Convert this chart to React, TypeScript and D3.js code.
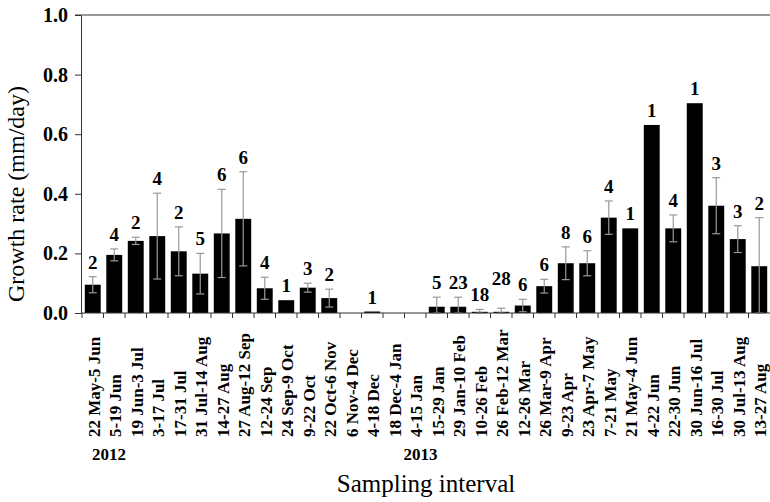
import { useEffect, useRef } from 'react';
import * as d3 from 'd3';

// sampling intervals (2012 -> 2013)
const intervals = [
  '22 May-5 Jun', '5-19 Jun', '19 Jun-3 Jul', '3-17 Jul', '17-31 Jul', '31 Jul-14 Aug',
  '14-27 Aug', '27 Aug-12 Sep', '12-24 Sep', '24 Sep-9 Oct', '9-22 Oct', '22 Oct-6 Nov',
  '6 Nov-4 Dec', '4-18 Dec', '18 Dec-4 Jan', '4-15 Jan', '15-29 Jan', '29 Jan-10 Feb',
  '10-26 Feb', '26 Feb-12 Mar', '12-26 Mar', '26 Mar-9 Apr', '9-23 Apr', '23 Apr-7 May',
  '7-21 May', '21 May-4 Jun', '4-22 Jun', '22-30 Jun', '30 Jun-16 Jul', '16-30 Jul',
  '30 Jul-13 Aug', '13-27 Aug',
];
const growth = [
  0.095, 0.195, 0.242, 0.258, 0.207, 0.132, 0.267, 0.316, 0.083, 0.043, 0.085, 0.05,
  0, 0.005, 0, 0, 0.021, 0.021, 0.004, 0.004, 0.025, 0.09, 0.167, 0.167,
  0.32, 0.284, 0.631, 0.284, 0.704, 0.36, 0.248, 0.157,
];
const sd = [
  0.027, 0.02, 0.012, 0.144, 0.082, 0.068, 0.148, 0.158, 0.037, 0, 0.015, 0.03,
  0, 0, 0, 0, 0.032, 0.032, 0.008, 0.012, 0.021, 0.023, 0.055, 0.042,
  0.056, 0, 0, 0.045, 0, 0.094, 0.045, 0.163,
];
const sampleSize = [
  2, 4, 2, 4, 2, 5, 6, 6, 4, 1, 3, 2, null, 1, null, null, 5, 23, 18, 28, 6, 6, 8, 6,
  4, 1, 1, 4, 1, 3, 3, 2,
];
const yTicks = [0, 0.2, 0.4, 0.6, 0.8, 1.0];
const years = [
  { label: '2012', at: '22 May-5 Jun', shift: 10 },
  { label: '2013', at: '4-15 Jan', shift: -1 },
];

const serif = "'Liberation Serif', Tinos, 'Times New Roman', Times, 'Nimbus Roman', 'DejaVu Serif', serif";

export default function App() {
  const svgRef = useRef<SVGSVGElement>(null);
  const W = 770;
  const H = 502;

  useEffect(() => {
    const svg = d3.select(svgRef.current);
    svg.selectAll('*').remove();
    svg.style('font-family', serif);

    const x = d3.scaleBand().domain(intervals).range([82, 770]).padding(0);
    const y = d3.scaleLinear().domain([0, 1]).range([313, 15]);
    const bw = x.bandwidth() * 0.74;
    const cx = (d: string) => (x(d) as number) + x.bandwidth() / 2;

    const data = intervals.map((d, i) => ({ d, v: growth[i], sd: sd[i], n: sampleSize[i] }));

    // top frame line
    svg.append('line')
      .attr('x1', 75).attr('x2', W).attr('y1', y(1)).attr('y2', y(1))
      .attr('stroke', '#777').attr('stroke-width', 1.5);

    // bars
    svg.append('g').selectAll('rect').data(data).join('rect')
      .attr('x', (p) => cx(p.d) - bw / 2)
      .attr('y', (p) => y(p.v))
      .attr('width', bw)
      .attr('height', (p) => y(0) - y(p.v))
      .attr('fill', '#000');

    // error bars
    const eb = svg.append('g').attr('stroke', '#999').attr('stroke-width', 1.2);
    data.filter((p) => p.sd > 0).forEach((p) => {
      const c = cx(p.d);
      const lo = y(Math.max(0, p.v - p.sd));
      const hi = y(p.v + p.sd);
      eb.append('line').attr('x1', c).attr('x2', c).attr('y1', lo).attr('y2', hi);
      eb.append('line').attr('x1', c - 4).attr('x2', c + 4).attr('y1', hi).attr('y2', hi);
      eb.append('line').attr('x1', c - 4).attr('x2', c + 4).attr('y1', lo).attr('y2', lo);
    });

    // sample size labels, lifted when two wide labels would sit side by side
    let prev: { y: number; wide: boolean; lifted: boolean } | null = null;
    data.forEach((p) => {
      if (p.n == null) { prev = null; return; }
      let ly = y(p.v + p.sd) - 8;
      const wide = String(p.n).length > 1;
      let lifted = false;
      if (prev && wide && prev.wide && !prev.lifted && Math.abs(prev.y - ly) < 6) {
        ly -= 15;
        lifted = true;
      }
      svg.append('text')
        .attr('x', cx(p.d)).attr('y', ly)
        .attr('text-anchor', 'middle')
        .style('font-family', serif).attr('font-weight', 'bold').attr('font-size', 19)
        .text(p.n);
      prev = { y: lifted ? ly + 15 : ly, wide, lifted };
    });

    // y axis
    const ya = svg.append('g').attr('transform', 'translate(81,0)')
      .call(d3.axisLeft(y).tickValues(yTicks).tickFormat(d3.format('.1f')).tickSize(6).tickSizeOuter(0));
    ya.attr('font-family', null);
    ya.select('.domain').attr('stroke', '#333');
    ya.selectAll('.tick line').attr('stroke', '#333');
    ya.selectAll('.tick text')
      .style('font-family', serif).attr('font-weight', 'bold').attr('font-size', 20)
      .attr('fill', '#000').attr('x', -13);

    // x axis baseline and boundary ticks
    svg.append('line').attr('x1', 81).attr('x2', W).attr('y1', y(0)).attr('y2', y(0))
      .attr('stroke', '#333');
    svg.append('g').selectAll('line').data(intervals).join('line')
      .attr('x1', (d) => x(d) as number).attr('x2', (d) => x(d) as number)
      .attr('y1', y(0)).attr('y2', y(0) + 5)
      .attr('stroke', '#333');

    // rotated interval labels
    svg.append('g').selectAll('text').data(intervals).join('text')
      .attr('transform', (d) => `translate(${cx(d) + 1},437) rotate(-90)`)
      .attr('dy', '0.35em')
      .attr('text-anchor', 'start')
      .style('font-family', serif).attr('font-weight', 'bold').attr('font-size', 17)
      .text((d) => d);

    // years
    svg.append('g').selectAll('text').data(years).join('text')
      .attr('x', (d) => (x(d.at) as number) + d.shift).attr('y', 460)
      .style('font-family', serif).attr('font-weight', 'bold').attr('font-size', 17)
      .text((d) => d.label);

    // axis titles
    svg.append('text')
      .attr('x', 426).attr('y', 492).attr('text-anchor', 'middle')
      .style('font-family', serif).attr('font-size', 25)
      .text('Sampling interval');
    svg.append('text')
      .attr('transform', 'translate(24,194) rotate(-90)')
      .attr('text-anchor', 'middle')
      .style('font-family', serif).attr('font-size', 24)
      .text('Growth rate (mm/day)');
  }, []);

  return (
    <svg
      ref={svgRef}
      width={W}
      height={H}
      style={{ position: 'absolute', left: 0, top: 0, background: '#fff' }}
    />
  );
}
